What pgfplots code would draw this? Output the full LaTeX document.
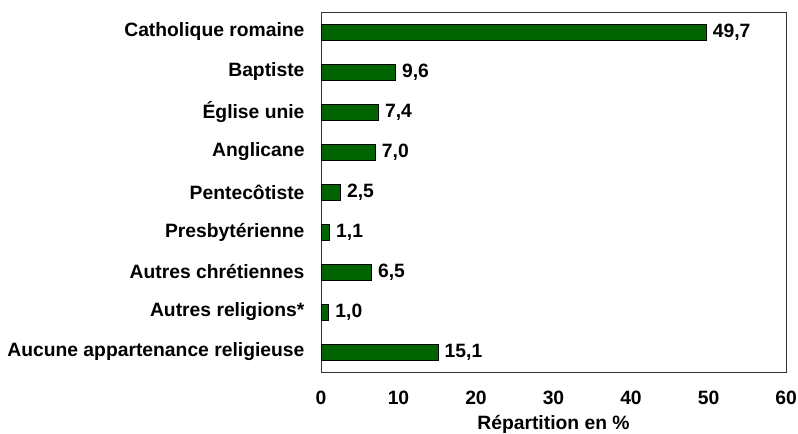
\documentclass[border=0pt]{standalone}
\usepackage{pgfplots}
\pgfplotsset{compat=1.18}
\usepackage{fontspec}
\setmainfont{Liberation Sans}
\definecolor{barg}{HTML}{006400}
\begin{document}
\begin{tikzpicture}
\begin{axis}[
  name=ax,
  scale only axis, width=465bp, height=360bp,
  xbar, xmin=0, xmax=60, ymin=-0.5, ymax=8.5, y dir=reverse,
  ytick={0,...,8},
  yticklabels={Catholique romaine,Baptiste,Église unie,Anglicane,Pentecôtiste,Presbytérienne,Autres chrétiennes,Autres religions*,Aucune appartenance religieuse},
  xtick={0,10,...,60},
  major tick length=0,
  bar width=16bp,
  axis line style={black!80, line width=0.8pt},
  font=\fontsize{19.3bp}{22bp}\selectfont\bfseries,
  tick label style={font=\fontsize{19.3bp}{22bp}\selectfont\bfseries},
  yticklabel style={xshift=-13bp},
  xticklabel style={yshift=-16bp},
  /pgf/number format/assume math mode=true,
  nodes near coords={\pgfmathprintnumber[use comma,fixed,fixed zerofill,precision=1]{\pgfplotspointmeta}},
  nodes near coords style={font=\fontsize{19.3bp}{22bp}\selectfont\bfseries, xshift=3bp},
  xlabel={Répartition en \%},
  xlabel style={yshift=-3bp},
]
\addplot[fill=barg, draw=black, line width=0.8pt] coordinates {
(49.7,0) (9.6,1) (7.4,2) (7.0,3) (2.5,4) (1.1,5) (6.5,6) (1.0,7) (15.1,8)};
\end{axis}
\pgfresetboundingbox
\path ([xshift=-321bp,yshift=-62bp]ax.south west) rectangle ([xshift=12bp,yshift=12bp]ax.north east);
\end{tikzpicture}
\end{document}
